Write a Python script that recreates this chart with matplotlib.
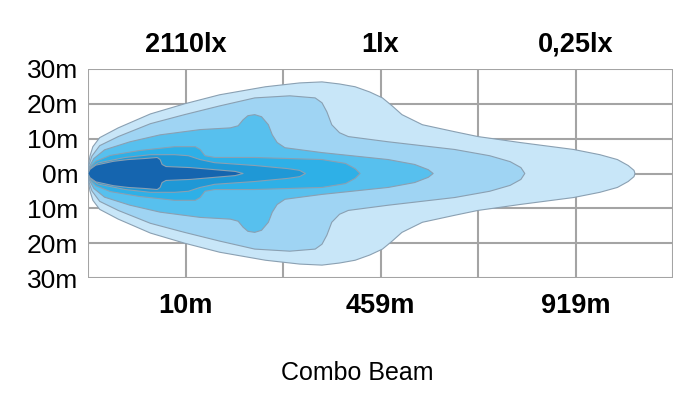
import matplotlib
matplotlib.use("Agg")
import matplotlib.pyplot as plt
import numpy as np

# ---- data ----
y_ticks = [-30, -20, -10, 0, 10, 20, 30]
y_tick_labels = ["30m", "20m", "10m", "0m", "10m", "20m", "30m"]
x_grid = [0, 1, 2, 3, 4, 5, 6]
bottom_labels = ["10m", "459m", "919m"]
top_labels = ["2110lx", "1lx", "0,25lx"]
label_positions = [1, 3, 5]
title = "Combo Beam"

# upper half profiles of each isolux zone (x in grid units, y in metres), outer -> inner
zone1_x = [0, 0.005, 0.02, 0.05, 0.12, 0.31, 0.64, 0.99, 1.35, 1.82, 2.17, 2.40, 2.58, 2.74, 2.89, 3.02, 3.12, 3.22, 3.43, 3.76, 4.00, 4.43, 4.98, 5.25, 5.43, 5.54, 5.60, 5.61]
zone1_y = [0, 2.5, 5.0, 7.7, 10.3, 13.1, 17.1, 20.0, 22.6, 24.9, 26.0, 26.3, 25.7, 24.9, 23.4, 21.7, 19.4, 16.9, 14.0, 12.0, 10.6, 8.9, 6.9, 5.4, 4.0, 2.3, 0.9, 0]

zone2_x = [0, 0.01, 0.04, 0.12, 0.31, 0.64, 0.99, 1.35, 1.71, 2.07, 2.33, 2.40, 2.45, 2.50, 2.58, 2.67, 3.08, 3.76, 4.12, 4.33, 4.44, 4.48]
zone2_y = [0, 2.5, 5.0, 8.0, 10.6, 14.3, 16.9, 19.4, 21.7, 22.3, 21.7, 20.3, 17.7, 14.0, 11.7, 10.6, 9.1, 6.9, 5.1, 3.4, 1.7, 0]

zone3_x = [0, 0.015, 0.06, 0.17, 0.43, 0.74, 1.15, 1.46, 1.54, 1.59, 1.64, 1.71, 1.78, 1.85, 1.89, 1.94, 2.02, 2.40, 3.08, 3.35, 3.49, 3.54]
zone3_y = [0, 2.0, 4.3, 6.8, 9.1, 11.1, 12.6, 13.1, 13.7, 15.4, 16.6, 16.9, 16.3, 14.0, 11.1, 8.9, 7.4, 6.0, 4.0, 2.6, 1.1, 0]

zone4_x = [0, 0.02, 0.08, 0.23, 0.53, 0.89, 1.10, 1.15, 1.20, 1.30, 1.71, 2.40, 2.64, 2.74, 2.79]
zone4_y = [0, 1.8, 3.5, 5.2, 6.6, 7.7, 7.7, 6.9, 5.1, 4.6, 4.6, 4.0, 2.9, 1.4, 0]

zone5_x = [0, 0.03, 0.10, 0.38, 0.64, 0.89, 1.03, 1.15, 1.30, 1.71, 2.05, 2.17, 2.23]
zone5_y = [0, 1.6, 3.0, 4.6, 5.4, 5.4, 5.1, 4.0, 3.1, 2.3, 1.4, 0.9, 0]

zone6_x = [0, 0.02, 0.08, 0.26, 0.41, 0.58, 0.71, 0.74, 0.76, 0.80, 1.05, 1.30, 1.51, 1.59]
zone6_y = [0, 1.2, 2.4, 3.5, 4.0, 4.3, 4.6, 4.0, 2.6, 2.0, 1.7, 1.1, 0.6, 0]

zones = [(zone1_x, zone1_y), (zone2_x, zone2_y), (zone3_x, zone3_y),
         (zone4_x, zone4_y), (zone5_x, zone5_y), (zone6_x, zone6_y)]
zone_colors = ["#c8e6f8", "#9fd4f3", "#57c0ee", "#2eb0e7", "#1f98d6", "#1565af"]

# ---- figure ----
plt.rcParams['font.family'] = ['Liberation Sans', 'DejaVu Sans']
fig = plt.figure(figsize=(7.0, 4.01), dpi=100)
ax = fig.add_axes([88/700, 1-278/401, 585/700, 209/401])

grid_color = "#a4a4a4"
for gx in x_grid:
    ax.axvline(gx, color=grid_color, lw=1.5, zorder=1)
for gy in y_ticks:
    ax.axhline(gy, color=grid_color, lw=1.5, zorder=1)

for (zx, zy), col in zip(zones, zone_colors):
    zx = np.asarray(zx, float)
    zy = np.asarray(zy, float)
    px = np.concatenate([zx, zx[::-1][1:]])
    py = np.concatenate([zy, -zy[::-1][1:]])
    ax.fill(px, py, facecolor=col, edgecolor="#8aa0b2", lw=0.8,
            joinstyle='round', zorder=2)

ax.set_xlim(0, 6)
ax.set_ylim(-30, 30)
for s in ax.spines.values():
    s.set_visible(False)

ax.set_yticks(y_ticks)
ax.set_yticklabels(y_tick_labels, fontsize=19)
ax.tick_params(axis='y', length=0, pad=7)

ax.set_xticks(label_positions)
ax.set_xticklabels(bottom_labels, fontsize=19.5, fontweight='bold')
ax.tick_params(axis='x', length=0, pad=11)

sec = ax.secondary_xaxis('top')
sec.set_xticks(label_positions)
sec.set_xticklabels(top_labels, fontsize=19.5, fontweight='bold')
sec.tick_params(axis='x', length=0, pad=8)
for s in sec.spines.values():
    s.set_visible(False)

fig.text(357/700, 1-373/401, title, ha='center', va='center', fontsize=18)

fig.savefig("out.png", dpi=100, facecolor="white")
